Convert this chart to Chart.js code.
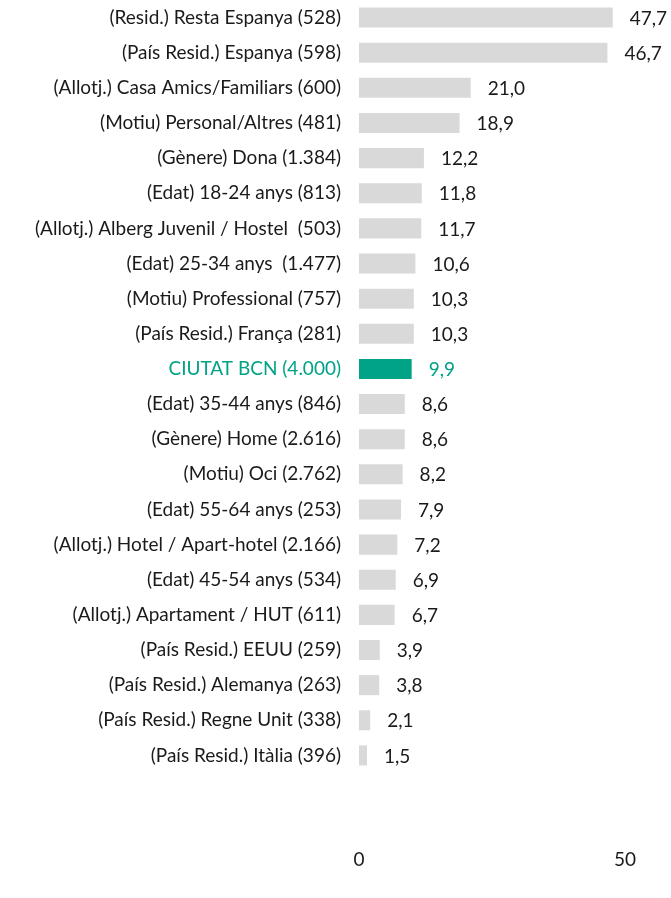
<!DOCTYPE html>
<html>
<head>
<meta charset="utf-8">
<script src="https://cdn.jsdelivr.net/npm/chart.js@4"></script>
<style>
  html, body { margin:0; padding:0; background:#ffffff; overflow:hidden; }
  canvas { display:block; }
</style>
</head>
<body>
<canvas id="barChart" width="671" height="898"></canvas>
<script>

//======================================================
// DATA
//======================================================

const categories = [
    "(Resid.) Resta Espanya (528)",
    "(País Resid.) Espanya (598)",
    "(Allotj.) Casa Amics/Familiars (600)",
    "(Motiu) Personal/Altres (481)",
    "(Gènere) Dona (1.384)",
    "(Edat) 18-24 anys (813)",
    "(Allotj.) Alberg Juvenil / Hostel  (503)",
    "(Edat) 25-34 anys  (1.477)",
    "(Motiu) Professional (757)",
    "(País Resid.) França (281)",
    "CIUTAT BCN (4.000)",
    "(Edat) 35-44 anys (846)",
    "(Gènere) Home (2.616)",
    "(Motiu) Oci (2.762)",
    "(Edat) 55-64 anys (253)",
    "(Allotj.) Hotel / Apart-hotel (2.166)",
    "(Edat) 45-54 anys (534)",
    "(Allotj.) Apartament / HUT (611)",
    "(País Resid.) EEUU (259)",
    "(País Resid.) Alemanya (263)",
    "(País Resid.) Regne Unit (338)",
    "(País Resid.) Itàlia (396)"
];

const values = [
    47.7, 46.7, 21.0, 18.9, 12.2, 11.8, 11.7, 10.6, 10.3, 10.3, 9.9,
    8.6, 8.6, 8.2, 7.9, 7.2, 6.9, 6.7, 3.9, 3.8, 2.1, 1.5
];

const highlightLabel = "CIUTAT BCN (4.000)";

const xTicks = [0, 50];

//======================================================
// STYLE
//======================================================

const GREY = "#d9d9d9";
const GREEN = "#00a385";
const TEXT = "#1a1a1a";
const FONT = "Lato, 'Open Sans', sans-serif";
const FONT_SIZE = 19;

function isHighlight(i){
    return categories[i] === highlightLabel;
}

// chart.js adds tick padding to the side paddings; drop it
function clearScalePadding(scale){
    scale.paddingLeft = 0;
    scale.paddingRight = 0;
    scale.paddingTop = 0;
    scale.paddingBottom = 0;
}

//======================================================
// VALUE LABELS (drawn from the scales)
//======================================================

const valueLabels = {

    id:"valueLabels",

    afterDatasetsDraw(chart){

        const ctx = chart.ctx;
        const meta = chart.getDatasetMeta(0);

        ctx.save();
        ctx.font = FONT_SIZE + "px " + FONT;
        ctx.textAlign = "left";
        ctx.textBaseline = "middle";

        meta.data.forEach(function(bar, i){

            ctx.fillStyle = isHighlight(i) ? GREEN : TEXT;

            const txt = values[i].toFixed(1).replace(".", ",");

            ctx.fillText(txt, bar.x + 17, bar.y + 1);

        });

        ctx.restore();

    }

};

//======================================================
// CHART
//======================================================

new Chart(document.getElementById("barChart"), {

    type:"bar",

    data:{

        labels:categories,

        datasets:[{

            data:values,

            backgroundColor:values.map(function(v, i){
                return isHighlight(i) ? GREEN : GREY;
            }),

            borderWidth:0,

            categoryPercentage:1,

            barPercentage:0.57

        }]

    },

    options:{

        indexAxis:"y",

        responsive:false,

        animation:false,

        layout:{
            padding:{ left:0, right:46, top:0, bottom:29 }
        },

        plugins:{
            legend:{ display:false },
            tooltip:{ enabled:false }
        },

        scales:{

            x:{

                min:0,

                max:50,

                afterBuildTicks:function(scale){
                    scale.ticks = xTicks.map(function(v){ return { value:v }; });
                },

                afterFit:function(scale){
                    scale.height = 96;
                    clearScalePadding(scale);
                },

                grid:{ display:false, drawTicks:false },

                border:{ display:false },

                ticks:{
                    padding:75,
                    color:TEXT,
                    font:{ family:FONT, size:FONT_SIZE }
                }

            },

            y:{

                afterFit:function(scale){
                    scale.width = 359;
                    clearScalePadding(scale);
                },

                grid:{ display:false, drawTicks:false },

                border:{ display:false },

                ticks:{
                    padding:18,
                    autoSkip:false,
                    color:function(c){
                        return isHighlight(c.index) ? GREEN : TEXT;
                    },
                    font:{ family:FONT, size:FONT_SIZE }
                }

            }

        }

    },

    plugins:[valueLabels]

});

</script>
</body>
</html>
